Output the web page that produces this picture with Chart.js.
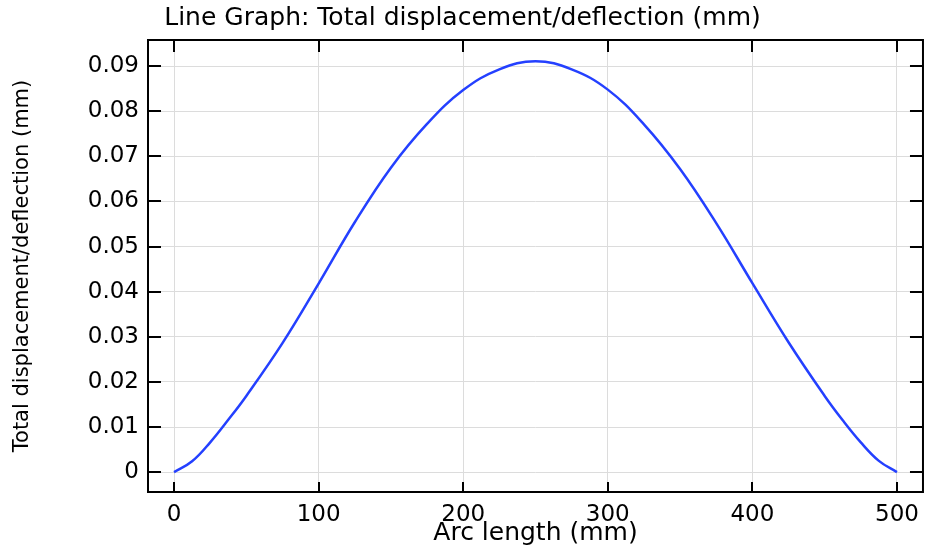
<!DOCTYPE html>
<html>
<head>
<meta charset="utf-8">
<title>Line Graph: Total displacement/deflection (mm)</title>
<script src="https://cdn.jsdelivr.net/npm/chart.js@4/dist/chart.umd.min.js"></script>
<style>
  html, body { margin: 0; padding: 0; background: #fff; }
  canvas { display: block; }
</style>
</head>
<body>
<canvas id="deflectionChart" width="928" height="552"></canvas>
<script>
// -------------------------------
// Data
// -------------------------------
const arcLength = [0, 12.5, 25, 37.5, 50, 75, 100, 125, 150, 175, 200, 225, 250,
                   275, 300, 325, 350, 375, 400, 425, 450, 462.5, 475, 487.5, 500];
const displacement = [0, 0.0024, 0.0066, 0.0116, 0.0169, 0.0286, 0.0418, 0.0554, 0.0675, 0.0772, 0.0847, 0.0893, 0.0911,
                      0.0893, 0.0848, 0.0771, 0.0672, 0.0552, 0.0419, 0.0288, 0.0169, 0.0115, 0.0066, 0.0025, 0];
const xTicks = [0, 100, 200, 300, 400, 500];
const yTicks = [0, 0.01, 0.02, 0.03, 0.04, 0.05, 0.06, 0.07, 0.08, 0.09];

const chartTitle = "Line Graph: Total displacement/deflection (mm)";
const xTitle = "Arc length (mm)";
const yTitle = "Total displacement/deflection (mm)";

// -------------------------------
// Frame + inward ticks on all four sides
// -------------------------------
const framePlugin = {
    id: "frame",
    afterDraw(chart) {
        const { ctx, chartArea: a, scales } = chart;
        ctx.save();
        ctx.strokeStyle = "#000";
        ctx.lineWidth = 2;
        ctx.beginPath();
        scales.x.ticks.forEach(t => {
            const px = Math.round(scales.x.getPixelForValue(t.value));
            ctx.moveTo(px, a.bottom); ctx.lineTo(px, a.bottom - 10);
            ctx.moveTo(px, a.top); ctx.lineTo(px, a.top + 12);
        });
        scales.y.ticks.forEach(t => {
            const py = Math.round(scales.y.getPixelForValue(t.value));
            ctx.moveTo(a.left, py); ctx.lineTo(a.left + 13, py);
            ctx.moveTo(a.right, py); ctx.lineTo(a.right - 13, py);
        });
        ctx.stroke();
        ctx.strokeRect(a.left, a.top, a.right - a.left, a.bottom - a.top);
        ctx.restore();
    }
};

// -------------------------------
// Chart.js Setup
// -------------------------------
const ctx = document.getElementById("deflectionChart").getContext("2d");
const chart = new Chart(ctx, {
    type: "line",
    data: {
        datasets: [{
            label: yTitle,
            data: arcLength.map((x, i) => ({ x: x, y: displacement[i] })),
            borderColor: "#2440ff",
            borderWidth: 2.5,
            pointRadius: 0,
            fill: false,
            tension: 0.4
        }]
    },
    options: {
        responsive: false,
        devicePixelRatio: 1,
        animation: false,
        layout: { padding: { left: 0, right: 3, top: 0, bottom: 0 } },
        plugins: {
            legend: { display: false },
            tooltip: { enabled: false },
            title: {
                display: true,
                text: chartTitle,
                color: "#000",
                font: { family: "DejaVu Sans", size: 25, weight: "normal", lineHeight: 1.2 },
                padding: { top: 3, bottom: 7 }
            }
        },
        scales: {
            x: {
                type: "linear",
                min: -18,
                max: 518,
                afterFit: s => { s.height = 60; },
                afterBuildTicks: s => { s.ticks = xTicks.map(v => ({ value: v })); },
                grid: { color: "#dcdcdc", lineWidth: 1, drawTicks: false },
                border: { display: false },
                ticks: {
                    padding: 9,
                    color: "#000",
                    maxRotation: 0,
                    font: { family: "DejaVu Sans", size: 23 }
                },
                title: {
                    display: true,
                    text: xTitle,
                    color: "#000",
                    font: { family: "DejaVu Sans", size: 25, lineHeight: 1.2 },
                    padding: { top: 0, bottom: 4 }
                }
            },
            y: {
                type: "linear",
                min: -0.0044,
                max: 0.0958,
                afterFit: s => { s.width = 148; },
                afterBuildTicks: s => { s.ticks = yTicks.map(v => ({ value: v })); },
                grid: { color: "#dcdcdc", lineWidth: 1, drawTicks: false },
                border: { display: false },
                ticks: {
                    padding: 9,
                    color: "#000",
                    font: { family: "DejaVu Sans", size: 23 },
                    callback: v => v === 0 ? "0" : String(+v.toFixed(2))
                },
                title: {
                    display: true,
                    text: yTitle,
                    color: "#000",
                    font: { family: "DejaVu Sans", size: 21, lineHeight: 1.2 },
                    padding: { top: 10, bottom: 0 }
                }
            }
        }
    },
    plugins: [framePlugin]
});
</script>
</body>
</html>
